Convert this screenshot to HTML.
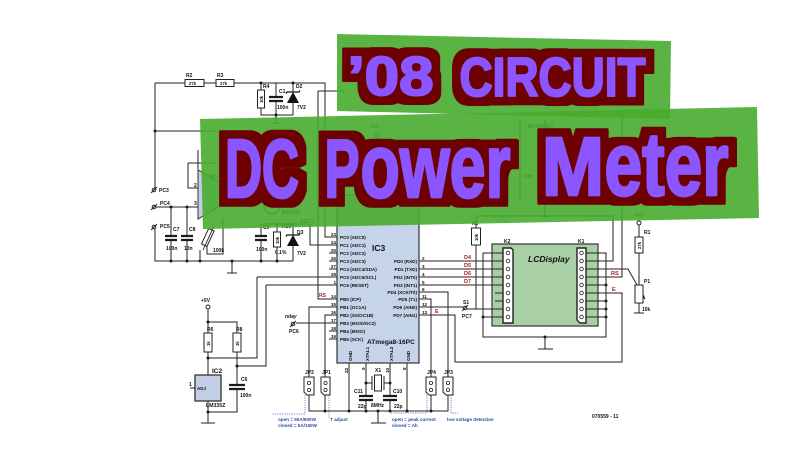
<!DOCTYPE html>
<html><head><meta charset="utf-8">
<style>
html,body{margin:0;padding:0;background:#fff;}
svg{display:block;}
.s{fill:none;stroke:#222;stroke-width:1;}
.w{fill:#fff;stroke:#222;stroke-width:1;}
.cp{stroke:#1a1a1a;stroke-width:2.2;fill:none;}
.t{font-family:"Liberation Sans",sans-serif;font-weight:bold;font-size:5px;fill:#111;}
.p{font-family:"Liberation Sans",sans-serif;font-weight:bold;font-size:4.6px;fill:#111;}
.r{font-family:"Liberation Sans",sans-serif;font-weight:bold;font-size:5.5px;fill:#b01a1a;}
.b{font-family:"Liberation Sans",sans-serif;font-weight:bold;font-size:4.6px;fill:#2c4aa0;}
.bd{fill:none;stroke:#3a5ab0;stroke-width:0.7;stroke-dasharray:1.2 1.2;}
</style></head><body>
<svg width="800" height="460" viewBox="0 0 800 460" xmlns="http://www.w3.org/2000/svg">
<defs>
<filter id="ol" filterUnits="userSpaceOnUse" x="0" y="0" width="800" height="460">
<feMorphology in="SourceAlpha" operator="dilate" radius="8.5" result="d"/>
<feFlood flood-color="#6d0006"/>
<feComposite in2="d" operator="in" result="o"/>
<feMerge><feMergeNode in="o"/><feMergeNode in="SourceGraphic"/></feMerge>
</filter>
</defs>
<rect width="800" height="460" fill="#fff"/>

<!-- under-banner faint details -->
<g class="s">
<path d="M198,170 V150 M360,195 V180 M378,195 V180 M396,195 V180 M377,138 V170 M545,216 V120 M520,120 V200"/>
<circle cx="272" cy="206" r="8"/>
<circle cx="377" cy="136" r="2"/>
<rect x="539" y="134" width="10" height="26"/>
</g>
<text class="t" x="203" y="178">TL081</text>
<text class="t" x="208" y="203">C4</text>
<text class="t" x="282" y="214">BS250P</text>
<text class="t" x="300" y="223">ADC1</text>
<text class="t" x="370" y="128">+5V</text>
<text class="t" x="528" y="128">MC7805CT</text>
<text class="t" x="522" y="178">100n</text>

<!-- IC3 body and LCD -->
<rect x="337" y="195" width="82" height="168" fill="#c6d4ea" stroke="#333" stroke-width="1.2"/>
<rect x="492" y="244" width="106" height="82" fill="#a9cfa7" stroke="#333" stroke-width="1.2"/>
<polygon points="198,170 198,219 240,194" fill="#c3cfe6" stroke="#333" stroke-width="1"/>
<rect x="195" y="375" width="26" height="26" fill="#c3cfe6" stroke="#333" stroke-width="1.3"/>

<g class="s">
<path d="M155,83 H185 M204,83 H216 M234,83 H325 V237 H337"/>
<path d="M261,83 V90 M261,108 V115 H293 M276,83 V97 M276,101 V115 M293,83 V92 M293,103 V115 M276,115 V123 M271,123 H281"/>
<path d="M155,83 V188 M155,131 H215 M188,163 H215 M188,163 V188 H198 M156,207 H198 M155,229 V261 H293"/>
<path d="M171,207 V236 M171,240 V261 M187,207 V236 M187,240 V261"/>
<path d="M200,261 V250 M207,246 V254 H223 V218 M232,261 V273 M227,273 H237"/>
<path d="M261,224 V236 M261,240 V261 M277,224 V232 M277,247 V261 M293,224 V235 M293,246 V261 M261,224 H310 V245 H337"/>
<path d="M318,91 H345 M318,91 V299 H337"/>
<path d="M329,253 H337 M329,261 H337 M329,269 H337 M257,277 H337 M266,285 H337 M329,331 H337 M329,339 H337"/>
<path d="M337,307 H309 V377 M337,315 H325 V377 M296,323 H337"/>
<path d="M208,309 V333 M208,352 V375 M208,322 H237 V333 M237,352 V385 M237,389 V412 H208 M208,401 V423 M201,423 H215"/>
<path d="M208,358 H257 V277 M237,366 H266 V285 M190,388 H195"/>
<path d="M309,395 V411 H448 V395 M325,395 V411 M431,395 V411 M419,292 H448 V377 M419,299 H431 V377"/>
<path d="M349,363 V411 M407,363 V411 M366,363 V396 M366,400 V411 M390,363 V396 M390,400 V411"/>
<path d="M366,383 H372 M372,376 V390 M384,376 V390 M384,383 H390 M378,411 V423 M371,423 H386"/>
<path d="M419,261 H503 M419,269 H503 M419,277 H503 M419,285 H503"/>
<path d="M419,307 H463 M467,309 H503 M476,245 V309 M476,216 V228 M476,216 H613 V261 H586 M545,216 V195"/>
<path d="M419,315 H455 V362 H622 V293 H586"/>
<path d="M483,253 H503 M483,253 V337 H606 V253 H586 M483,317 H503 M495,293 H503 M495,301 H503"/>
<path d="M586,285 H606 M586,301 H606 M586,309 H606 M586,317 H606"/>
<path d="M586,269 H628 L645,299 M586,277 H622 V110"/>
<path d="M545,337 V349 M538,349 H553"/>
<path d="M639,225 V237 M639,253 V285 M639,303 V313 M634,313 H644"/>
<circle cx="154" cy="190" r="1.8"/><path d="M151,193 L157,187"/>
<circle cx="154" cy="207" r="1.8"/><path d="M151,210 L157,204"/>
<circle cx="154" cy="227" r="1.8"/><path d="M151,230 L157,224"/>
<circle cx="293" cy="324" r="1.8"/><path d="M290,327 L296,321"/>
<circle cx="465" cy="308" r="1.8"/><path d="M462,311 L468,305"/>
<circle cx="208" cy="307" r="2" fill="#fff"/>
<circle cx="639" cy="223" r="2" fill="#fff"/>
</g>
<polygon points="645,299 641,297 644,295" fill="#222"/>
<path class="cp" d="M269,97 H283 M269,101 H283 M165,236 H177 M165,240 H177 M181,236 H193 M181,240 H193 M255,236 H267 M255,240 H267 M229,385 H245 M229,389 H245 M359,396 H373 M359,400 H373 M383,396 H397 M383,400 H397"/>
<polygon points="287,103 299,103 293,92" fill="#111"/>
<path d="M286,93.5 L287,92 H299 L300,90.5" stroke="#111" stroke-width="1.2" fill="none"/>
<polygon points="287,246 299,246 293,235" fill="#111"/>
<path d="M286,236.5 L287,235 H299 L300,233.5" stroke="#111" stroke-width="1.2" fill="none"/>
<rect class="w" x="185" y="79.5" width="19" height="7"/>
<rect class="w" x="216" y="79.5" width="18" height="7"/>
<rect class="w" x="257.5" y="90" width="7" height="18"/>
<rect class="w" x="273.5" y="232" width="7" height="15"/>
<rect class="w" x="204" y="333" width="8" height="19"/>
<rect class="w" x="233" y="333" width="8" height="19"/>
<rect class="w" x="471.5" y="228" width="9" height="17"/>
<rect class="w" x="635" y="237" width="8" height="16"/>
<rect class="w" x="635" y="285" width="8" height="18"/>
<rect class="w" x="205" y="229" width="6" height="17" transform="rotate(25 208 237)"/>
<path d="M203,250 L214,226" stroke="#222" stroke-width="0.9"/>
<rect class="w" x="374.5" y="375" width="7" height="16"/>
<g class="w">
<path d="M304,377 H314 V395 H307 L304,392 Z"/>
<path d="M321,377 H330 V395 H324 L321,392 Z"/>
<path d="M426,377 H436 V395 H429 L426,392 Z"/>
<path d="M443,377 H453 V395 H446 L443,392 Z"/>
<path d="M503,248 H511 L513,250 V323 H503 Z" stroke-width="1.4"/>
<path d="M577,248 H586 V323 H580 L577,320 Z" stroke-width="1.4"/>
</g>
<g fill="#fff" stroke="#222" stroke-width="0.8">
<circle cx="309" cy="383" r="1.6"/><circle cx="309" cy="390" r="1.6"/>
<circle cx="325.5" cy="383" r="1.6"/><circle cx="325.5" cy="390" r="1.6"/>
<circle cx="431" cy="383" r="1.6"/><circle cx="431" cy="390" r="1.6"/>
<circle cx="448" cy="383" r="1.6"/><circle cx="448" cy="390" r="1.6"/>
<circle cx="508" cy="253" r="1.8"/><circle cx="508" cy="261" r="1.8"/><circle cx="508" cy="269" r="1.8"/><circle cx="508" cy="277" r="1.8"/><circle cx="508" cy="285" r="1.8"/><circle cx="508" cy="293" r="1.8"/><circle cx="508" cy="301" r="1.8"/><circle cx="508" cy="309" r="1.8"/><circle cx="508" cy="317" r="1.8"/>
<circle cx="581.5" cy="253" r="1.8"/><circle cx="581.5" cy="261" r="1.8"/><circle cx="581.5" cy="269" r="1.8"/><circle cx="581.5" cy="277" r="1.8"/><circle cx="581.5" cy="285" r="1.8"/><circle cx="581.5" cy="293" r="1.8"/><circle cx="581.5" cy="301" r="1.8"/><circle cx="581.5" cy="309" r="1.8"/><circle cx="581.5" cy="317" r="1.8"/>
</g>
<g fill="#1a1a1a">
<circle cx="261" cy="83" r="1.5"/><circle cx="293" cy="83" r="1.5"/><circle cx="276" cy="115" r="1.5"/><circle cx="155" cy="131" r="1.5"/>
<circle cx="171" cy="207" r="1.5"/><circle cx="187" cy="207" r="1.5"/><circle cx="171" cy="261" r="1.5"/><circle cx="187" cy="261" r="1.5"/><circle cx="200" cy="261" r="1.5"/><circle cx="232" cy="261" r="1.5"/><circle cx="261" cy="261" r="1.5"/><circle cx="277" cy="261" r="1.5"/>
<circle cx="277" cy="224" r="1.5"/><circle cx="293" cy="224" r="1.5"/>
<circle cx="208" cy="322" r="1.5"/><circle cx="208" cy="358" r="1.5"/><circle cx="237" cy="366" r="1.5"/><circle cx="208" cy="412" r="1.5"/>
<circle cx="325" cy="411" r="1.5"/><circle cx="349" cy="411" r="1.5"/><circle cx="366" cy="411" r="1.5"/><circle cx="378" cy="411" r="1.5"/><circle cx="390" cy="411" r="1.5"/><circle cx="407" cy="411" r="1.5"/><circle cx="431" cy="411" r="1.5"/><circle cx="366" cy="383" r="1.5"/><circle cx="390" cy="383" r="1.5"/>
<circle cx="483" cy="317" r="1.5"/><circle cx="545" cy="337" r="1.5"/><circle cx="606" cy="285" r="1.5"/><circle cx="606" cy="301" r="1.5"/><circle cx="606" cy="309" r="1.5"/><circle cx="606" cy="317" r="1.5"/><circle cx="545" cy="216" r="1.5"/>
</g>

<text class="t" x="186" y="77">R2</text><text class="t" x="189" y="85" style="font-size:4.3px">27k</text>
<text class="t" x="217" y="77">R3</text><text class="t" x="220" y="85" style="font-size:4.3px">27k</text>
<text class="t" x="263" y="88">R4</text><text class="t" x="263" y="103" style="font-size:4.3px" transform="rotate(-90 263 103)">10k</text>
<text class="t" x="279" y="93">C1</text><text class="t" x="277" y="109">100n</text>
<text class="t" x="296" y="88">D2</text><text class="t" x="297" y="109">7V2</text>
<text class="t" x="159" y="192">PC3</text><text class="t" x="160" y="205">PC4</text><text class="t" x="160" y="228">PC5</text>
<text class="t" x="194" y="187">2</text><text class="t" x="194" y="205">3</text>
<text class="t" x="173" y="231">C7</text><text class="t" x="166" y="250">100n</text>
<text class="t" x="189" y="231">C8</text><text class="t" x="184" y="250">10n</text>
<text class="t" x="213" y="252">100k</text>
<text class="t" x="263" y="229">C9</text><text class="t" x="256" y="251">100n</text>
<text class="t" x="282" y="228">R10</text><text class="t" x="279" y="244" style="font-size:4.3px" transform="rotate(-90 279 244)">10k</text>
<text class="t" x="275" y="254">0.1%</text>
<text class="t" x="297" y="234">D3</text><text class="t" x="297" y="255">7V2</text>
<text class="r" x="319" y="297" style="font-size:5px">RS</text>

<g class="p">
<text x="340" y="239">PC0 (ADC0)</text><text x="340" y="247">PC1 (ADC1)</text><text x="340" y="255">PC2 (ADC2)</text><text x="340" y="263">PC3 (ADC3)</text><text x="340" y="271">PC4 (ADC4/SDA)</text><text x="340" y="279">PC5 (ADC5/SCL)</text><text x="340" y="287">PC6 (RESET)</text>
<text x="340" y="301">PB0 (ICP)</text><text x="340" y="309">PB1 (OC1A)</text><text x="340" y="317">PB2 (SS/OC1B)</text><text x="340" y="325">PB3 (MOSI/OC2)</text><text x="340" y="333">PB4 (MISO)</text><text x="340" y="341">PB5 (SCK)</text>
<g text-anchor="end">
<text x="417" y="263">PD0 (RXD)</text><text x="417" y="271">PD1 (TXD)</text><text x="417" y="279">PD2 (INT0)</text><text x="417" y="287">PD3 (INT1)</text><text x="417" y="294">PD4 (XCK/T0)</text><text x="417" y="301">PD5 (T1)</text><text x="417" y="309">PD6 (AIN0)</text><text x="417" y="317">PD7 (AIN1)</text>
<text x="336" y="236">23</text><text x="336" y="244">24</text><text x="336" y="252">25</text><text x="336" y="260">26</text><text x="336" y="268">27</text><text x="336" y="276">28</text><text x="336" y="284">1</text>
<text x="336" y="298">14</text><text x="336" y="306">15</text><text x="336" y="314">16</text><text x="336" y="322">17</text><text x="336" y="330">18</text><text x="336" y="338">19</text>
</g>
<text x="422" y="260">2</text><text x="422" y="268">3</text><text x="422" y="276">4</text><text x="422" y="284">5</text><text x="422" y="291">6</text><text x="422" y="298">11</text><text x="422" y="306">12</text><text x="422" y="314">13</text>
<text x="352" y="361" transform="rotate(-90 352 361)">GND</text>
<text x="369" y="361" transform="rotate(-90 369 361)">XTAL1</text>
<text x="393" y="361" transform="rotate(-90 393 361)">XTAL2</text>
<text x="410" y="361" transform="rotate(-90 410 361)">GND</text>
<text x="348" y="373" transform="rotate(-90 348 373)">22</text>
<text x="365" y="370" transform="rotate(-90 365 370)">9</text>
<text x="389" y="373" transform="rotate(-90 389 373)">10</text>
<text x="406" y="370" transform="rotate(-90 406 370)">8</text>
</g>
<text class="t" x="372" y="251" style="font-size:8.5px">IC3</text>
<text class="t" x="367" y="344" style="font-size:6.6px">ATmega8-16PC</text>

<text class="r" x="464" y="259">D4</text><text class="r" x="464" y="267">D5</text><text class="r" x="464" y="275">D6</text><text class="r" x="464" y="283">D7</text>
<text class="r" x="435" y="313">E</text><text class="r" x="611" y="275">RS</text><text class="r" x="612" y="291">E</text>
<text class="t" x="463" y="304">S1</text><text class="t" x="462" y="318">PC7</text>
<text class="t" x="504" y="243">K2</text><text class="t" x="578" y="243">K1</text>
<text class="t" x="528" y="262" style="font-size:8.5px;font-style:italic">LCDisplay</text>
<text class="t" x="472" y="225">R5</text><text class="t" x="478" y="241" style="font-size:4.3px" transform="rotate(-90 478 241)">10k</text>
<text class="t" x="634" y="217">+5V</text><text class="t" x="644" y="234">R1</text><text class="t" x="641" y="249" style="font-size:4.3px" transform="rotate(-90 641 249)">27k</text>
<text class="t" x="644" y="283">P1</text><text class="t" x="642" y="311">10k</text>

<text class="t" x="201" y="302">+5V</text>
<text class="t" x="207" y="331">R6</text><text class="t" x="236" y="331">R8</text>
<text class="t" x="210" y="346" style="font-size:4.3px" transform="rotate(-90 210 346)">1k</text>
<text class="t" x="239" y="346" style="font-size:4.3px" transform="rotate(-90 239 346)">1k</text>
<text class="t" x="212" y="373" style="font-size:6.5px">IC2</text>
<text class="t" x="189" y="386">1</text><text class="t" x="197" y="390" style="font-size:4.5px">ADJ</text>
<text class="t" x="206" y="407" style="font-size:5.2px">LM335Z</text>
<text class="t" x="241" y="381">C6</text><text class="t" x="240" y="397">100n</text>
<text class="t" x="285" y="318" style="font-style:italic">relay</text><text class="t" x="289" y="333">PC6</text>
<text class="t" x="305" y="374">JP2</text><text class="t" x="322" y="374">JP1</text><text class="t" x="427" y="374">JP4</text><text class="t" x="444" y="374">JP3</text>
<text class="t" x="375" y="372">X1</text>
<text class="t" x="354" y="393">C11</text><text class="t" x="358" y="408">22p</text>
<text class="t" x="393" y="393">C10</text><text class="t" x="394" y="408">22p</text>
<text class="t" x="371" y="407">8MHz</text>
<text class="t" x="592" y="418">070559 - 11</text>

<path class="bd" d="M305,395 V414 H272 M329,395 V418 M427,395 V413 H390 M451,395 V413 H458"/>
<text class="b" x="278" y="421">open = 50A/800W</text><text class="b" x="278" y="427">closed = 5A/150W</text>
<text class="b" x="330" y="421">T adjust</text>
<text class="b" x="392" y="421">open = peak current</text><text class="b" x="392" y="427">closed = Ah</text>
<text class="b" x="447" y="421">low voltage detection</text>

<polygon points="337,34 671,41 670,119 337,111" fill="rgb(72,172,47)" fill-opacity="0.9"/>
<g filter="url(#ol)" font-family="'Liberation Sans', sans-serif" font-weight="bold" fill="#8b55ff" stroke="#8b55ff" stroke-width="2" stroke-linejoin="round">
<text x="347.5" y="95" font-size="55" textLength="86" lengthAdjust="spacingAndGlyphs">’08</text>
<text x="459.5" y="96" font-size="55" textLength="186" lengthAdjust="spacingAndGlyphs">CIRCUIT</text>
</g>
<polygon points="200,119 757,107 759,218 203,229" fill="rgb(72,172,47)" fill-opacity="0.9"/>
<g filter="url(#ol)" font-family="'Liberation Sans', sans-serif" font-weight="bold" fill="#8b55ff" stroke="#8b55ff" stroke-width="2.6" stroke-linejoin="round">
<text x="225" y="197" font-size="83" textLength="74" lengthAdjust="spacingAndGlyphs">DC</text>
<text x="324.5" y="197" font-size="83" textLength="35" lengthAdjust="spacingAndGlyphs">P</text>
<text x="360.5" y="197" font-size="90" textLength="150" lengthAdjust="spacingAndGlyphs">ower</text>
<text x="542" y="195" font-size="83" textLength="62" lengthAdjust="spacingAndGlyphs">M</text>
<text x="604.5" y="195" font-size="90" textLength="124" lengthAdjust="spacingAndGlyphs">eter</text>
</g>
</svg>
</body></html>
